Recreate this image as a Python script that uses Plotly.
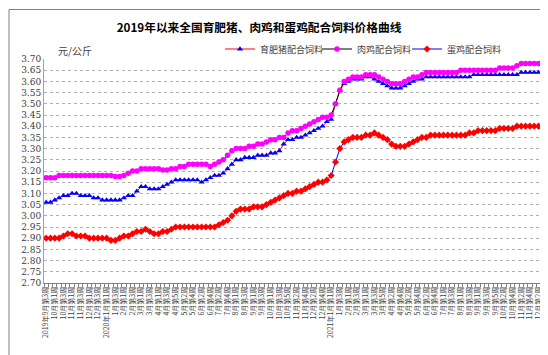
import plotly.graph_objects as go

# ---- data ----
# week labels: (year, month, list of week numbers)
months = [
    (2019, 9, [3, 4]), (2019, 10, [1, 2, 3, 4]), (2019, 11, [1, 2, 3, 4]), (2019, 12, [1, 2, 3, 4]),
    (2020, 1, [1, 2, 3, 4]), (2020, 2, [1, 2, 3, 4]), (2020, 3, [1, 2, 3, 4]), (2020, 4, [1, 2, 3, 4, 5]),
    (2020, 5, [1, 2, 3, 4]), (2020, 6, [1, 2, 3, 4]), (2020, 7, [1, 2, 3, 4, 5]), (2020, 8, [1, 2, 3, 4]),
    (2020, 9, [1, 2, 3, 4]), (2020, 10, [1, 2, 3, 4, 5]), (2020, 11, [1, 2, 3, 4]), (2020, 12, [1, 2, 3, 4, 5]),
    (2021, 1, [1, 2, 3, 4]), (2021, 2, [1, 2, 3, 4]), (2021, 3, [1, 2, 3, 4, 5]), (2021, 4, [1, 2, 3, 4]),
    (2021, 5, [1, 2, 3, 4]), (2021, 6, [1, 2, 3, 4, 5]), (2021, 7, [1, 2, 3, 4]), (2021, 8, [1, 2, 3, 4]),
    (2021, 9, [1, 2, 3, 4, 5]), (2021, 10, [1, 2, 3, 4]), (2021, 11, [1, 2, 3, 4]), (2021, 12, [1, 2, 3]),
]

pig = [
    3.06, 3.06, 3.07, 3.08, 3.09, 3.09, 3.10, 3.10, 3.09, 3.09,
    3.09, 3.08, 3.08, 3.07, 3.07, 3.07, 3.07, 3.07, 3.08, 3.09,
    3.09, 3.11, 3.13, 3.13, 3.12, 3.12, 3.12, 3.13, 3.14, 3.15,
    3.16, 3.16, 3.16, 3.16, 3.16, 3.16, 3.15, 3.16, 3.17, 3.18,
    3.18, 3.19, 3.21, 3.23, 3.25, 3.25, 3.26, 3.26, 3.26, 3.27,
    3.27, 3.27, 3.28, 3.28, 3.29, 3.32, 3.34, 3.34, 3.35, 3.35,
    3.36, 3.37, 3.38, 3.39, 3.40, 3.42, 3.43, 3.50, 3.56, 3.59,
    3.60, 3.61, 3.61, 3.61, 3.62, 3.62, 3.61, 3.60, 3.59, 3.58,
    3.57, 3.57, 3.57, 3.58, 3.59, 3.60, 3.61, 3.61, 3.62, 3.62,
    3.62, 3.62, 3.62, 3.62, 3.62, 3.62, 3.62, 3.62, 3.62, 3.63,
    3.63, 3.63, 3.63, 3.63, 3.63, 3.63, 3.63, 3.63, 3.63, 3.63,
    3.64, 3.64, 3.64, 3.64, 3.64, 3.64,
]

broiler = [
    3.17, 3.17, 3.17, 3.18, 3.18, 3.18, 3.18, 3.18, 3.18, 3.18,
    3.18, 3.18, 3.18, 3.18, 3.18, 3.18, 3.175, 3.175, 3.18, 3.19,
    3.20, 3.20, 3.21, 3.21, 3.21, 3.21, 3.21, 3.205, 3.205, 3.21,
    3.21, 3.22, 3.22, 3.23, 3.23, 3.23, 3.23, 3.23, 3.22, 3.23,
    3.24, 3.25, 3.27, 3.29, 3.30, 3.30, 3.30, 3.31, 3.31, 3.32,
    3.32, 3.33, 3.34, 3.34, 3.35, 3.35, 3.37, 3.38, 3.38, 3.39,
    3.40, 3.41, 3.42, 3.43, 3.44, 3.44, 3.45, 3.50, 3.56, 3.60,
    3.61, 3.62, 3.62, 3.62, 3.63, 3.63, 3.63, 3.62, 3.61, 3.60,
    3.59, 3.59, 3.59, 3.60, 3.61, 3.62, 3.62, 3.63, 3.64, 3.64,
    3.64, 3.64, 3.64, 3.64, 3.64, 3.64, 3.65, 3.65, 3.65, 3.65,
    3.65, 3.65, 3.65, 3.65, 3.65, 3.66, 3.66, 3.66, 3.66, 3.67,
    3.68, 3.68, 3.68, 3.68, 3.68, 3.68,
]

layer = [
    2.90, 2.90, 2.90, 2.90, 2.91, 2.92, 2.92, 2.91, 2.91, 2.91,
    2.90, 2.90, 2.90, 2.90, 2.90, 2.89, 2.89, 2.90, 2.91, 2.91,
    2.92, 2.93, 2.93, 2.94, 2.93, 2.92, 2.92, 2.93, 2.93, 2.94,
    2.95, 2.95, 2.95, 2.95, 2.95, 2.95, 2.95, 2.95, 2.95, 2.95,
    2.96, 2.97, 2.98, 3.00, 3.02, 3.03, 3.03, 3.03, 3.04, 3.04,
    3.04, 3.05, 3.06, 3.07, 3.08, 3.09, 3.10, 3.10, 3.11, 3.11,
    3.12, 3.13, 3.14, 3.15, 3.15, 3.16, 3.18, 3.24, 3.30, 3.33,
    3.34, 3.35, 3.35, 3.35, 3.36, 3.36, 3.37, 3.36, 3.35, 3.34,
    3.32, 3.31, 3.31, 3.31, 3.32, 3.33, 3.34, 3.35, 3.35, 3.36,
    3.36, 3.36, 3.36, 3.36, 3.36, 3.36, 3.36, 3.36, 3.37, 3.37,
    3.38, 3.38, 3.38, 3.38, 3.38, 3.39, 3.39, 3.39, 3.39, 3.40,
    3.40, 3.40, 3.40, 3.40, 3.40, 3.40,
]

series_names = ["育肥猪配合饲料", "肉鸡配合饲料", "蛋鸡配合饲料"]
title_text = "2019年以来全国育肥猪、肉鸡和蛋鸡配合饲料价格曲线"
unit_text = "元/公斤"

# build week labels
week_labels = []
for (yr, mo, weeks) in months:
    for w in weeks:
        week_labels.append((yr, mo, w))

x_idx = list(range(len(week_labels)))
tickvals = []
ticktext = []
seen_years = set()
for i, (yr, mo, w) in enumerate(week_labels):
    if i % 2 == 0:
        prefix = ""
        if yr not in seen_years:
            prefix = f"{yr}年"
            seen_years.add(yr)
        tickvals.append(i)
        ticktext.append(f"{prefix}{mo}月第{w}周")

W, H = 548, 355
L, R, T, B = 36, 11, 51, 80
PW, PH = W - L - R, H - T - B

fig = go.Figure()
fig.add_trace(go.Scatter(
    x=x_idx, y=pig, name=series_names[0], mode="lines+markers", legend="legend",
    line=dict(color="#FF0000", width=1),
    marker=dict(symbol="triangle-up", size=5.5, color="#0000FF"),
))
fig.add_trace(go.Scatter(
    x=x_idx, y=broiler, name=series_names[1], mode="lines+markers", legend="legend2",
    line=dict(color="#000000", width=1),
    marker=dict(symbol="circle", size=5.5, color="#FF00FF"),
))
fig.add_trace(go.Scatter(
    x=x_idx, y=layer, name=series_names[2], mode="lines+markers", legend="legend3",
    line=dict(color="#0000FF", width=1),
    marker=dict(symbol="diamond", size=5.5, color="#FF0000"),
))

font_family = "Noto Sans CJK SC, DejaVu Sans, sans-serif"


def leg(px):
    return dict(orientation="h", x=(px - L) / PW, xanchor="left",
                y=1 + 10 / PH, yanchor="middle",
                font=dict(size=9, color="#404040"),
                itemwidth=30, bgcolor="rgba(0,0,0,0)")


fig.update_layout(
    width=W, height=H,
    margin=dict(l=L, r=R, t=T, b=B),
    paper_bgcolor="white", plot_bgcolor="white",
    font=dict(family=font_family, color="#404040"),
    title=dict(text=f"<b>{title_text}</b>", x=251 / W, xref="container", xanchor="center",
               y=1 - 20 / H, yanchor="middle", font=dict(size=11.7, color="#000000")),
    showlegend=True,
    legend=leg(212),
    legend2=leg(309),
    legend3=leg(399),
    xaxis=dict(
        range=[-0.5, len(x_idx) - 0.5],
        tickmode="array", tickvals=tickvals, ticktext=ticktext,
        tickangle=-90, tickfont=dict(size=7, color="#404040"),
        showgrid=False, zeroline=False,
        showline=True, linecolor="#808080", linewidth=1,
        ticks="",
        minor=dict(tickmode="linear", tick0=-0.5, dtick=1, ticks="outside",
                   ticklen=3, tickcolor="#808080", showgrid=False),
    ),
    yaxis=dict(
        range=[2.70, 3.70], tickmode="linear", tick0=2.70, dtick=0.05,
        tickformat=".2f", tickfont=dict(size=9, color="#404040", family="DejaVu Serif, serif"),
        showgrid=True, gridcolor="#B0B0B0", griddash="dot", gridwidth=1,
        zeroline=False, showline=True, linecolor="#A0A0A0", linewidth=1,
        ticks="",
    ),
    annotations=[dict(
        text=unit_text, xref="paper", yref="paper",
        x=(48 - L) / PW, y=1 + 8 / PH,
        xanchor="left", yanchor="middle", showarrow=False,
        font=dict(size=10, color="#404040"),
    )],
    shapes=[dict(
        type="rect", xref="paper", yref="paper",
        x0=-(L - 1) / PW, x1=1 + (R - 1.5) / PW,
        y0=-(B - 2.5) / PH, y1=1 + (T - 1.5) / PH,
        line=dict(color="#808080", width=1), layer="below",
    )],
)

fig.write_html("out.html")
